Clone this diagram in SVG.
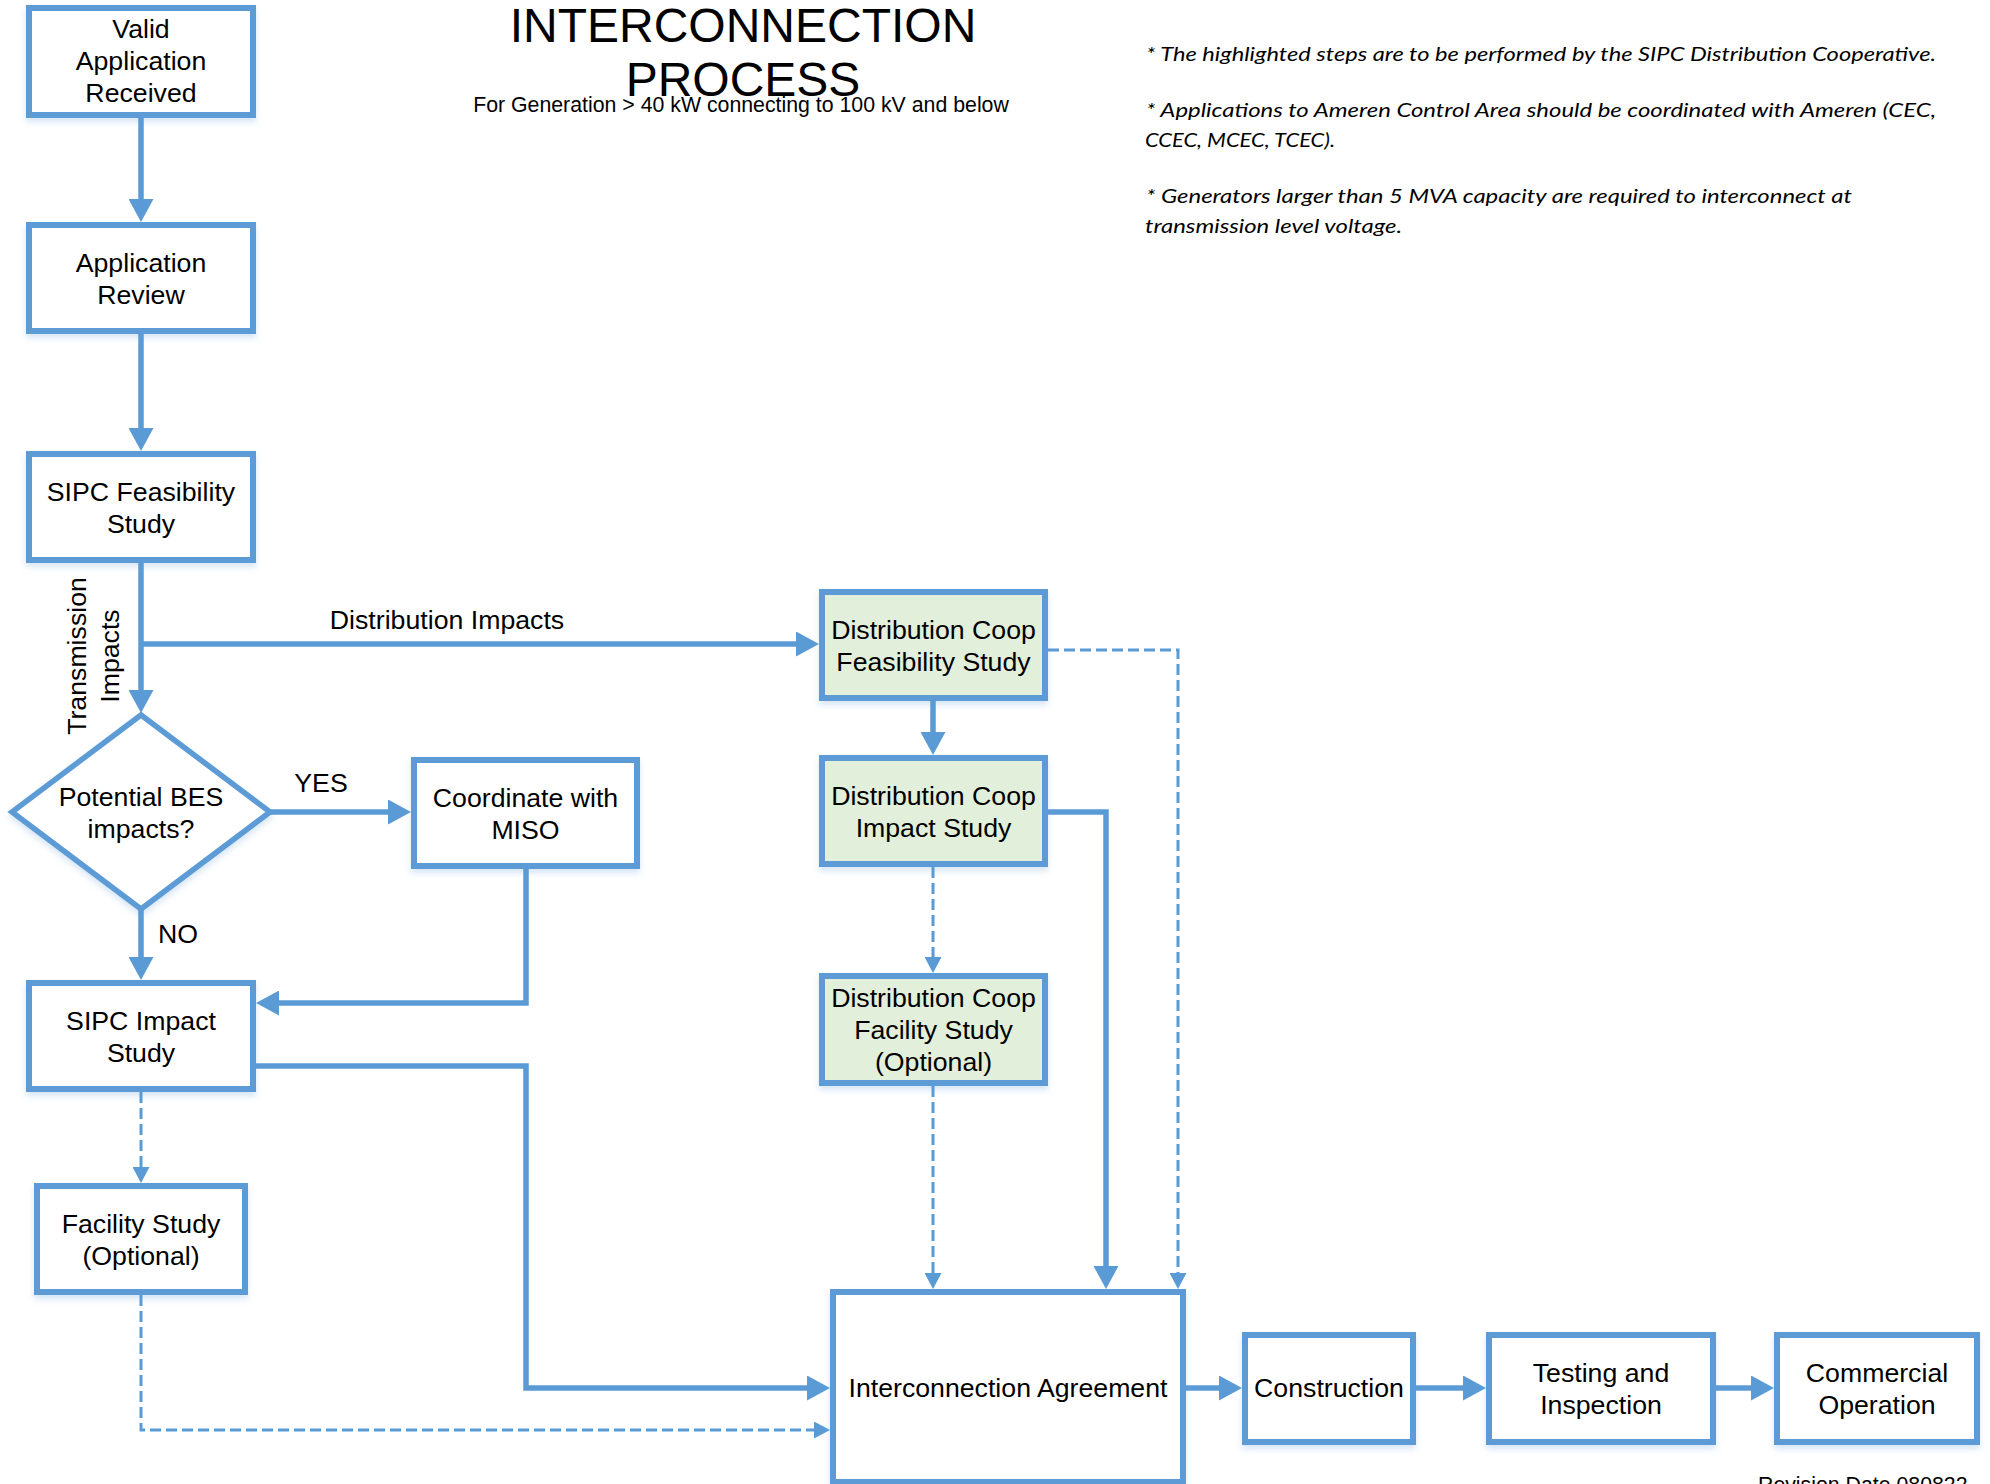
<svg xmlns="http://www.w3.org/2000/svg" width="1990" height="1484" viewBox="0 0 1990 1484">
<defs>
<style>
.box{fill:#fff;stroke:#5B9BD5;stroke-width:6;filter:url(#sh)}
.green{fill:#E2EFDA}
.t{font-family:"Liberation Sans",Arial,sans-serif;font-size:26.7px;fill:#000;text-anchor:middle}
.lbl{font-family:"Liberation Sans",Arial,sans-serif;font-size:26.7px;fill:#000;text-anchor:middle}
.c{fill:none;stroke:#5B9BD5;stroke-width:5.5;marker-end:url(#ah)}
.d{fill:none;stroke:#5B9BD5;stroke-width:3;stroke-dasharray:11 5;marker-end:url(#ahs)}
.note{font-family:Lato,"Liberation Sans",sans-serif;font-style:italic;font-size:20px;fill:#000}
</style>
<filter id="sh" x="-10%" y="-10%" width="120%" height="130%">
<feDropShadow dx="0" dy="4" stdDeviation="3" flood-color="#5B9BD5" flood-opacity="0.25"/>
</filter>
<marker id="ah" viewBox="0 0 23 25" refX="13" refY="12.5" markerWidth="23" markerHeight="25" markerUnits="userSpaceOnUse" orient="auto">
<path d="M0,0 L23,12.5 L0,25 Z" fill="#5B9BD5"/>
</marker>
<marker id="ahs" viewBox="0 0 16 17" refX="10" refY="8.5" markerWidth="16" markerHeight="17" markerUnits="userSpaceOnUse" orient="auto">
<path d="M0,0 L16,8.5 L0,17 Z" fill="#5B9BD5"/>
</marker>
</defs>
<rect width="1990" height="1484" fill="#fff"/>

<g id="title">
<text x="743" y="42" style="font-family:'Liberation Sans',Arial,sans-serif;font-size:48px;text-anchor:middle">INTERCONNECTION</text>
<text x="743" y="96" style="font-family:'Liberation Sans',Arial,sans-serif;font-size:48px;text-anchor:middle">PROCESS</text>
<text x="741" y="111.5" style="font-family:'Liberation Sans',Arial,sans-serif;font-size:21.3px;text-anchor:middle">For Generation &gt; 40 kW connecting to 100 kV and below</text>
</g>

<g id="notes" xml:space="preserve">
<text class="note" x="1146" y="61" textLength="790" lengthAdjust="spacingAndGlyphs">* The highlighted steps are to be performed by the SIPC Distribution Cooperative.</text>
<text class="note" x="1146" y="117" textLength="790" lengthAdjust="spacingAndGlyphs">* Applications to Ameren Control Area should  be coordinated with Ameren (CEC,</text>
<text class="note" x="1145" y="147" textLength="190" lengthAdjust="spacingAndGlyphs">CCEC, MCEC, TCEC).</text>
<text class="note" x="1146" y="203" textLength="706" lengthAdjust="spacingAndGlyphs">* Generators larger than 5 MVA capacity are required to interconnect at</text>
<text class="note" x="1145" y="233" textLength="257" lengthAdjust="spacingAndGlyphs">transmission level voltage.</text>
</g>

<g id="connectors">
<path class="c" d="M141,118 V212"/>
<path class="c" d="M141,334 V441"/>
<path class="c" d="M141,563 V703"/>
<path class="c" d="M141,644 H809"/>
<path class="c" d="M270,812 H401"/>
<path class="c" d="M141,909 V970"/>
<path class="c" d="M526,869 V1003 H266"/>
<path class="c" d="M256,1066 H526 V1388 H820"/>
<path class="c" d="M933,701 V745"/>
<path class="c" d="M1048,812 H1106 V1279"/>
<path class="c" d="M1186,1388 H1232"/>
<path class="c" d="M1416,1388 H1476"/>
<path class="c" d="M1716,1388 H1764"/>
<path class="d" d="M141,1092 V1177"/>
<path class="d" d="M141,1295 V1430 H824"/>
<path class="d" d="M933,867 V967"/>
<path class="d" d="M933,1086 V1283"/>
<path class="d" d="M1048,650 H1178 V1283"/>
</g>

<g id="labels">
<text class="lbl" x="447" y="629">Distribution Impacts</text>
<text class="lbl" x="321" y="792">YES</text>
<text class="lbl" x="178" y="943">NO</text>
<text class="lbl" transform="translate(86,656) rotate(-90)">Transmission</text>
<text class="lbl" transform="translate(119,656) rotate(-90)">Impacts</text>
</g>

<g id="valid">
<rect class="box" x="29" y="8" width="224" height="107"/>
<text class="t" x="141" y="38">Valid</text>
<text class="t" x="141" y="70">Application</text>
<text class="t" x="141" y="102">Received</text>
</g>
<g id="appreview">
<rect class="box" x="29" y="225" width="224" height="106"/>
<text class="t" x="141" y="272">Application</text>
<text class="t" x="141" y="304">Review</text>
</g>
<g id="sipcfeas">
<rect class="box" x="29" y="454" width="224" height="106"/>
<text class="t" x="141" y="500.5">SIPC Feasibility</text>
<text class="t" x="141" y="532.5">Study</text>
</g>
<g id="decision">
<polygon points="141,715 270,812 141,909 12,812" style="fill:#fff;stroke:#5B9BD5;stroke-width:5.5;filter:url(#sh)"/>
<text class="t" x="141" y="805.5">Potential BES</text>
<text class="t" x="141" y="837.5">impacts?</text>
</g>
<g id="miso">
<rect class="box" x="414" y="760" width="223" height="106"/>
<text class="t" x="525.5" y="806.5">Coordinate with</text>
<text class="t" x="525.5" y="838.5">MISO</text>
</g>
<g id="sipcimpact">
<rect class="box" x="29" y="983" width="224" height="106"/>
<text class="t" x="141" y="1029.5">SIPC Impact</text>
<text class="t" x="141" y="1061.5">Study</text>
</g>
<g id="facility">
<rect class="box" x="37" y="1186" width="208" height="106"/>
<text class="t" x="141" y="1232.5">Facility Study</text>
<text class="t" x="141" y="1264.5">(Optional)</text>
</g>
<g id="dcfeas">
<rect class="box green" x="822" y="592" width="223" height="106"/>
<text class="t" x="933.5" y="638.5">Distribution Coop</text>
<text class="t" x="933.5" y="670.5">Feasibility Study</text>
</g>
<g id="dcimpact">
<rect class="box green" x="822" y="758" width="223" height="106"/>
<text class="t" x="933.5" y="804.5">Distribution Coop</text>
<text class="t" x="933.5" y="836.5">Impact Study</text>
</g>
<g id="dcfacility">
<rect class="box green" x="822" y="976" width="223" height="107"/>
<text class="t" x="933.5" y="1007">Distribution Coop</text>
<text class="t" x="933.5" y="1039">Facility Study</text>
<text class="t" x="933.5" y="1071">(Optional)</text>
</g>
<g id="agreement">
<rect class="box" x="833" y="1292" width="350" height="190"/>
<text class="t" x="1008" y="1397">Interconnection Agreement</text>
</g>
<g id="construction">
<rect class="box" x="1245" y="1335" width="168" height="107"/>
<text class="t" x="1329" y="1397">Construction</text>
</g>
<g id="testing">
<rect class="box" x="1489" y="1335" width="224" height="107"/>
<text class="t" x="1601" y="1382">Testing and</text>
<text class="t" x="1601" y="1414">Inspection</text>
</g>
<g id="commercial">
<rect class="box" x="1777" y="1335" width="200" height="107"/>
<text class="t" x="1877" y="1382">Commercial</text>
<text class="t" x="1877" y="1414">Operation</text>
</g>
<g id="revision">
<text x="1758" y="1492" style="font-family:'Liberation Sans',Arial,sans-serif;font-size:21.3px">Revision Date 080822</text>
</g>
</svg>
